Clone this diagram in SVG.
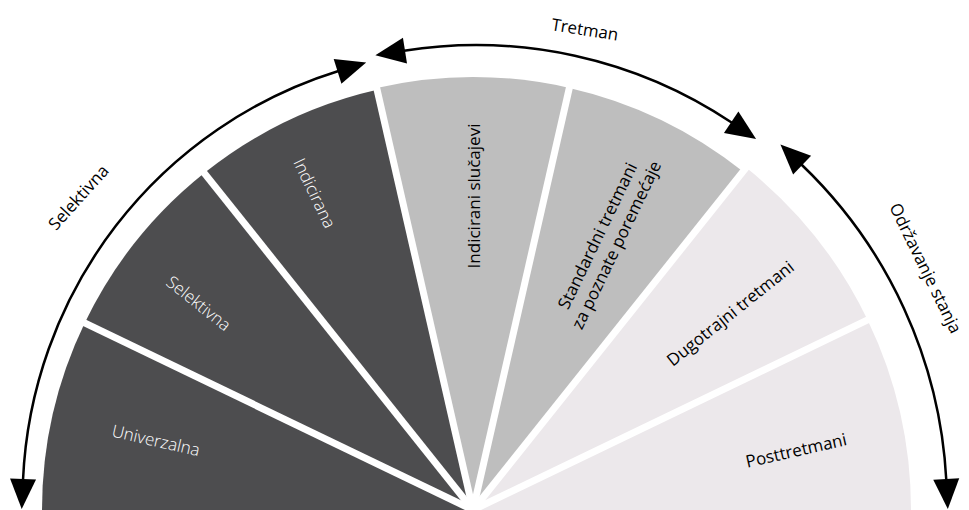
<svg xmlns="http://www.w3.org/2000/svg" width="969" height="510" viewBox="0 0 969 510">
  <defs>
    <style>
      .dark { fill: #4d4d4f; }
      .gray { fill: #bebebe; }
      .light { fill: #ece8eb; }
      .sep { stroke: #ffffff; stroke-width: 7; fill: none; }
      .arc { stroke: #000000; stroke-width: 2.5; fill: none; marker-start: url(#arrow); marker-end: url(#arrow); }
      .lbl { font-family: "Open Sans", "Noto Sans", "Liberation Sans", sans-serif; font-size: 17px; text-anchor: middle; dominant-baseline: central; }
      .w { fill: #ffffff; font-weight: 300; }
      .b { fill: #000000; }
    </style>
    <marker id="arrow" markerUnits="userSpaceOnUse" markerWidth="32" markerHeight="28" viewBox="0 -14 32 28" refX="1" refY="0" orient="auto-start-reverse" overflow="visible">
      <path d="M0,-13 L30,0 L0,13 Z" fill="#000000"/>
    </marker>
  </defs>
  <rect width="969" height="510" fill="#ffffff"/>

  <g id="universal">
    <path class="dark" d="M473,510 L42,510 A431,431 0 0 1 84.7,323 Z"/>
    <text class="lbl w" transform="translate(156,440) rotate(12.86)">Univerzalna</text>
  </g>
  <g id="selective">
    <path class="dark" d="M473,510 L84.7,323 A431,431 0 0 1 204.3,173 Z"/>
    <text class="lbl w" transform="translate(199,303) rotate(38.57)">Selektivna</text>
  </g>
  <g id="indicated">
    <path class="dark" d="M473,510 L204.3,173 A431,431 0 0 1 377.1,89.8 Z"/>
    <text class="lbl w" transform="translate(315,193) rotate(64.29)">Indicirana</text>
  </g>
  <g id="case-id">
    <path class="gray" d="M473,510 L376.65,87.9 A433,433 0 0 1 569.35,87.9 Z"/>
    <text class="lbl b" transform="translate(473,196) rotate(-90)">Indicirani slučajevi</text>
  </g>
  <g id="standard">
    <path class="gray" d="M473,510 L569.35,87.9 A433,433 0 0 1 743,171.5 Z"/>
    <text class="lbl b" transform="translate(606,240) rotate(-64.29)"><tspan x="0" y="-10.5">Standardni tretmani</tspan><tspan x="0" y="10.5">za poznate poremećaje</tspan></text>
  </g>
  <g id="long-term">
    <path class="light" d="M473,510 L746.1,167.6 A438,438 0 0 1 867.6,320 Z"/>
    <text class="lbl b" transform="translate(730,313) rotate(-38.57)">Dugotrajni tretmani</text>
  </g>
  <g id="aftercare">
    <path class="light" d="M473,510 L867.6,320 A438,438 0 0 1 911,510 Z"/>
    <text class="lbl b" transform="translate(796,450) rotate(-12.86)">Posttretmani</text>
  </g>

  <g id="separators">
    <line class="sep" x1="473" y1="510" x2="72.1" y2="316.9"/>
    <line class="sep" x1="473" y1="510" x2="195.5" y2="162.1"/>
    <line class="sep" x1="473" y1="510" x2="374" y2="76.2"/>
    <line class="sep" x1="473" y1="510" x2="572" y2="76.2"/>
    <line class="sep" x1="473" y1="510" x2="750.5" y2="162.1"/>
    <line class="sep" x1="473" y1="510" x2="873.9" y2="316.9"/>
  </g>

  <g id="connectors">
    <path class="arc" d="M23,480 A449,449 0 0 1 338.5,71"/>
    <path class="arc" d="M404,50.7 A460,460 0 0 1 732,122.8"/>
    <path class="arc" d="M801.4,164.5 A471,471 0 0 1 946.3,480"/>
  </g>

  <g id="arc-labels">
    <text class="lbl b" transform="translate(78,197) rotate(-48)">Selektivna</text>
    <text class="lbl b" transform="translate(585,29) rotate(9)">Tretman</text>
    <text class="lbl b" transform="translate(926,268) rotate(64)">Održavanje stanja</text>
  </g>
</svg>
